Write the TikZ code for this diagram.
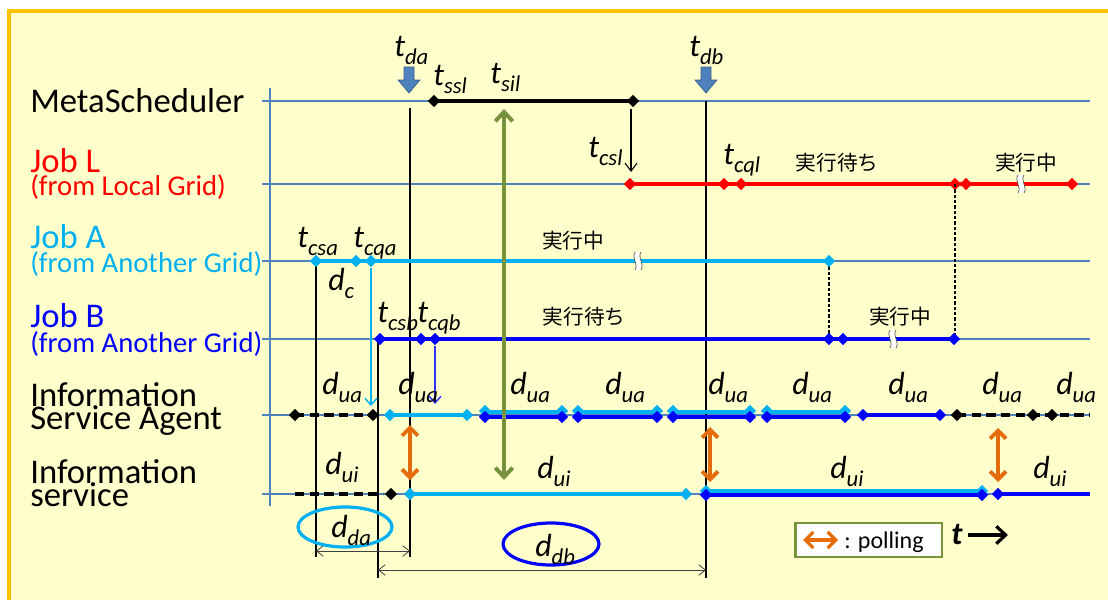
\documentclass[tikz,border=0pt]{standalone}
\usepackage{fontspec}
\setmainfont{Carlito}
\newfontfamily\jpfont{Noto Sans CJK JP}
\usetikzlibrary{arrows.meta,shapes.geometric,calc}
\definecolor{bgY}{HTML}{FFFFCC}
\definecolor{frameO}{HTML}{FFC000}
\definecolor{rowB}{HTML}{4F81BD}
\definecolor{cyanA}{HTML}{00B0F0}
\definecolor{blueB}{HTML}{0000FF}
\definecolor{blueT}{HTML}{3333FF}
\definecolor{redL}{HTML}{FF0000}
\definecolor{orgP}{HTML}{E46C0A}
\definecolor{grnS}{HTML}{77933C}
\definecolor{arrB}{HTML}{4F81BD}
\definecolor{arrBd}{HTML}{385D8A}
\newcommand\SB[2]{\textit{#1}\raisebox{-0.25em}{\fontsize{17}{17}\selectfont\textit{#2}}}
\newcommand\dms[4]{\foreach \xx [count=\k] in {#4} {\node[dmd, fill=#1] (#2-\k) at (\xx,#3) {};}}
\begin{document}
\begin{tikzpicture}[x=0.75pt,y=-0.75pt,
  lab/.style={anchor=base west, inner sep=0, font=\fontsize{26}{26}\selectfont},
  sublab/.style={anchor=base west, inner sep=0, font=\fontsize{21.5}{22}\selectfont},
  tlab/.style={anchor=base west, inner sep=0, font=\fontsize{24}{24}\selectfont},
  jlab/.style={anchor=center, inner sep=0, font=\jpfont\fontsize{15.5}{16}\selectfont},
  row/.style={rowB, line width=0.8pt},
  vline/.style={black, line width=0.9pt},
  dmd/.style={diamond, inner sep=0, minimum width=9.5pt, minimum height=9.5pt, draw=none},
  thick4/.style={line width=3.6pt},
  blkdash/.style={black, line width=3pt, dash pattern=on 7pt off 4pt},
  dim/.style={black!75, line width=0.6pt, {Straight Barb[length=5pt,width=8pt]}-{Straight Barb[length=5pt,width=8pt]}},
  poll/.style={orgP, line width=2.8pt, {Straight Barb[length=6pt,width=12pt]}-{Straight Barb[length=6pt,width=12pt]}},
  thinarr/.style={line width=1.1pt, -{Straight Barb[length=5pt,width=9pt]}},
  brkmark/.pic={
    \fill[white] (-4,-9) .. controls (-8,-3) and (0,3) .. (-4,9) -- (2,9) .. controls (6,3) and (-2,-3) .. (2,-9) -- cycle;
    \draw[black!70, line width=0.5pt] (-4,-9) .. controls (-8,-3) and (0,3) .. (-4,9);
    \draw[black!70, line width=0.5pt] (2,-9) .. controls (-2,-3) and (6,3) .. (2,9);
  },
  blkarrow/.pic={
    \filldraw[fill=arrB, draw=arrBd, line width=0.5pt] (-5,0) -- (5,0) -- (5,13) -- (11,13) -- (0,26) -- (-11,13) -- (-5,13) -- cycle;
  }]
\useasboundingbox (0,0) rectangle (1108,600);
\fill[white] (0,0) rectangle (1108,600);
\filldraw[fill=bgY, draw=frameO, line width=2.4pt] (9,11) rectangle (1125,620);

% left labels
\node[lab] (ms) at (30,112) {MetaScheduler};
\node[lab, text=redL] (jl) at (30,172) {Job L};
\node[sublab, text=redL] (jl2) at (30,195) {(from Local Grid)};
\node[lab, text=cyanA] (ja) at (30,248) {Job A};
\node[sublab, text=cyanA] (ja2) at (30,272) {(from Another Grid)};
\node[lab, text=blueB] (jb) at (30,327) {Job B};
\node[sublab, text=blueB] (jb2) at (30,352) {(from Another Grid)};
\node[lab] (isa1) at (30,406) {Information};
\node[lab] (isa2) at (30,429) {Service Agent};
\node[lab] (is1) at (30,483) {Information};
\node[lab] (is2) at (30,506) {service};

% row lines and axis
\draw[row] (270,88) -- (270,506);
\foreach \yy in {101,184,261,339,415,494} \draw[row] (262,\yy) -- (1090,\yy);

% vertical black lines
\draw[vline] (410,108) -- (410,557);
\draw[vline] (706,101) -- (706,578);
\draw[vline] (316,261) -- (316,557);
\draw[vline] (378,339) -- (378,578);

% dimension lines
\draw[dim] (316,551) -- (410,551);
\draw[dim] (378,570) -- (706,570);

% ellipses
\draw[cyanA, line width=2.4pt] (345,527) ellipse [x radius=47, y radius=20];
\node[tlab] (dda) at (331,537) {\SB{d}{da}};
\draw[blueB, line width=2.4pt] (551,544) ellipse [x radius=48, y radius=21];
\node[tlab] (ddb) at (535,556) {\SB{d}{db}};

% blue block arrows
\pic at (409,67) {blkarrow};
\pic at (706,67) {blkarrow};
\node[tlab] (tda) at (394,56) {\SB{t}{da}};
\node[tlab] (tdb) at (689,56) {\SB{t}{db}};

% MetaScheduler row
\draw[black, thick4] (434,101) -- (633,101);
\dms{black}{M}{101}{434,633}
\node[tlab] (tssl) at (433,85) {\SB{t}{ssl}};
\node[tlab] (tsil) at (490,83) {\SB{t}{sil}};
\draw[black, line width=0.8pt, -{Straight Barb[length=6pt,width=9pt]}] (631,109) -- (631,172);
\node[tlab] (tcsl) at (588,157) {\SB{t}{csl}};

% Job L
\draw[redL, thick4] (630,184) -- (1072,184);
\dms{redL}{L}{184}{630,724,741,955,966,1072}
\pic at (1022,184) {brkmark};
\node[tlab] (tcql) at (723,164) {\SB{t}{cql}};
\node[jlab] (lw) at (837,163) {実行待ち};
\node[jlab] (lr) at (1026,163) {実行中};

% dashed verticals
\draw[black, line width=0.8pt, dash pattern=on 2.5pt off 1.5pt] (955,184) -- (955,339);
\draw[black, line width=0.8pt, dash pattern=on 2.5pt off 1.5pt] (829,261) -- (829,339);

% Job A
\draw[cyanA, thick4] (316,261) -- (829,261);
\dms{cyanA}{A}{261}{316,356,371,829}
\pic at (639,261) {brkmark};
\node[tlab] (tcsa) at (297,247) {\SB{t}{csa}};
\node[tlab] (tcqa) at (353,247) {\SB{t}{cqa}};
\node[tlab] (dc) at (328,290) {\SB{d}{c}};
\node[jlab] (ar) at (573,241) {実行中};
\draw[cyanA, thinarr] (A-3) -- (371,406);

% Job B
\draw[blueB, thick4] (380,339) -- (954,339);
\dms{blueB}{B}{339}{380,421,435,829,843,954}
\pic at (894,339) {brkmark};
\node[tlab] (tcsb) at (377,322) {\SB{t}{csb}};
\node[tlab] (tcqb) at (417,322) {\SB{t}{cqb}};
\node[jlab] (bw) at (584,317) {実行待ち};
\node[jlab] (br) at (900,317) {実行中};
\draw[blueT, thinarr] (B-3) -- (435,404);

% Information Service Agent row
\draw[blkdash] (295,415) -- (373,415);
\dms{black}{S}{415}{295,373}
\draw[cyanA, thick4] (390,415) -- (467,415);
\dms{cyanA}{SA}{415}{390,467}
\foreach \a/\b [count=\k] in {485/562,578/657,673/750,767/845} {
  \draw[cyanA, thick4] (\a,412) -- (\b,412);
  \draw[blueB, thick4] (\a,417) -- (\b,417);
  \node[dmd, fill=cyanA] (SC\k a) at (\a,411) {};
  \node[dmd, fill=cyanA] (SC\k b) at (\b,411) {};
  \node[dmd, fill=blueB] (SB\k a) at (\a,417) {};
  \node[dmd, fill=blueB] (SB\k b) at (\b,417) {};
}
\draw[blueB, line width=3pt] (863,415) -- (940,415);
\dms{blueB}{SBB}{415}{863,940}
\draw[blkdash] (957,415) -- (1090,415);
\dms{black}{SK}{415}{957,1033,1052}
\foreach \xx [count=\k] in {322,398,510,605,708,792,888,982,1056}
  \node[tlab] (dua\k) at (\xx,394) {\SB{d}{ua}};

% Information service row
\draw[blkdash] (295,494) -- (383,494);
\dms{black}{I}{494}{391}
\draw[cyanA, thick4] (410,494) -- (686,494);
\dms{cyanA}{IA}{494}{410,686}
\draw[cyanA, thick4] (706,491) -- (982,491);
\draw[blueB, thick4] (706,495) -- (982,495);
\dms{cyanA}{IC}{491}{706,982}
\dms{blueB}{IB}{495}{706,982}
\draw[blueB, thick4] (998,494) -- (1090,494);
\dms{blueB}{IE}{494}{998}
\node[tlab] (dui1) at (325,474) {\SB{d}{ui}};
\node[tlab] (dui2) at (537,478) {\SB{d}{ui}};
\node[tlab] (dui3) at (830,478) {\SB{d}{ui}};
\node[tlab] (dui4) at (1033,478) {\SB{d}{ui}};

% polling arrows
\draw[poll] (410,425) -- (410,480);
\draw[poll] (710,427) -- (710,482);
\draw[poll] (998,428) -- (998,482);

% green arrow
\draw[grnS, line width=3pt, {Straight Barb[length=7pt,width=13pt]}-{Straight Barb[length=7pt,width=13pt]}] (504,109) -- (504,480);

% legend
\node[draw=grnS, line width=2pt, fill=white, minimum width=110pt, minimum height=25.5pt, inner sep=0] (leg) at (868.5,540) {};
\draw[poll, line width=2.4pt] (803,540) -- (838,540);
\node[anchor=base west, inner sep=0, font=\fontsize{18}{18}\selectfont] (pl) at (844,548) {: polling};
\node[anchor=base west, inner sep=0, font=\fontsize{24}{24}\selectfont\bfseries\itshape] (tt) at (951,544) {t};
\coordinate (ta0) at (968,535);
\coordinate (ta1) at (1008,535);
\draw[black, line width=2.4pt, -{Straight Barb[length=7pt,width=13pt]}] (ta0) -- (ta1);
\end{tikzpicture}
\end{document}
